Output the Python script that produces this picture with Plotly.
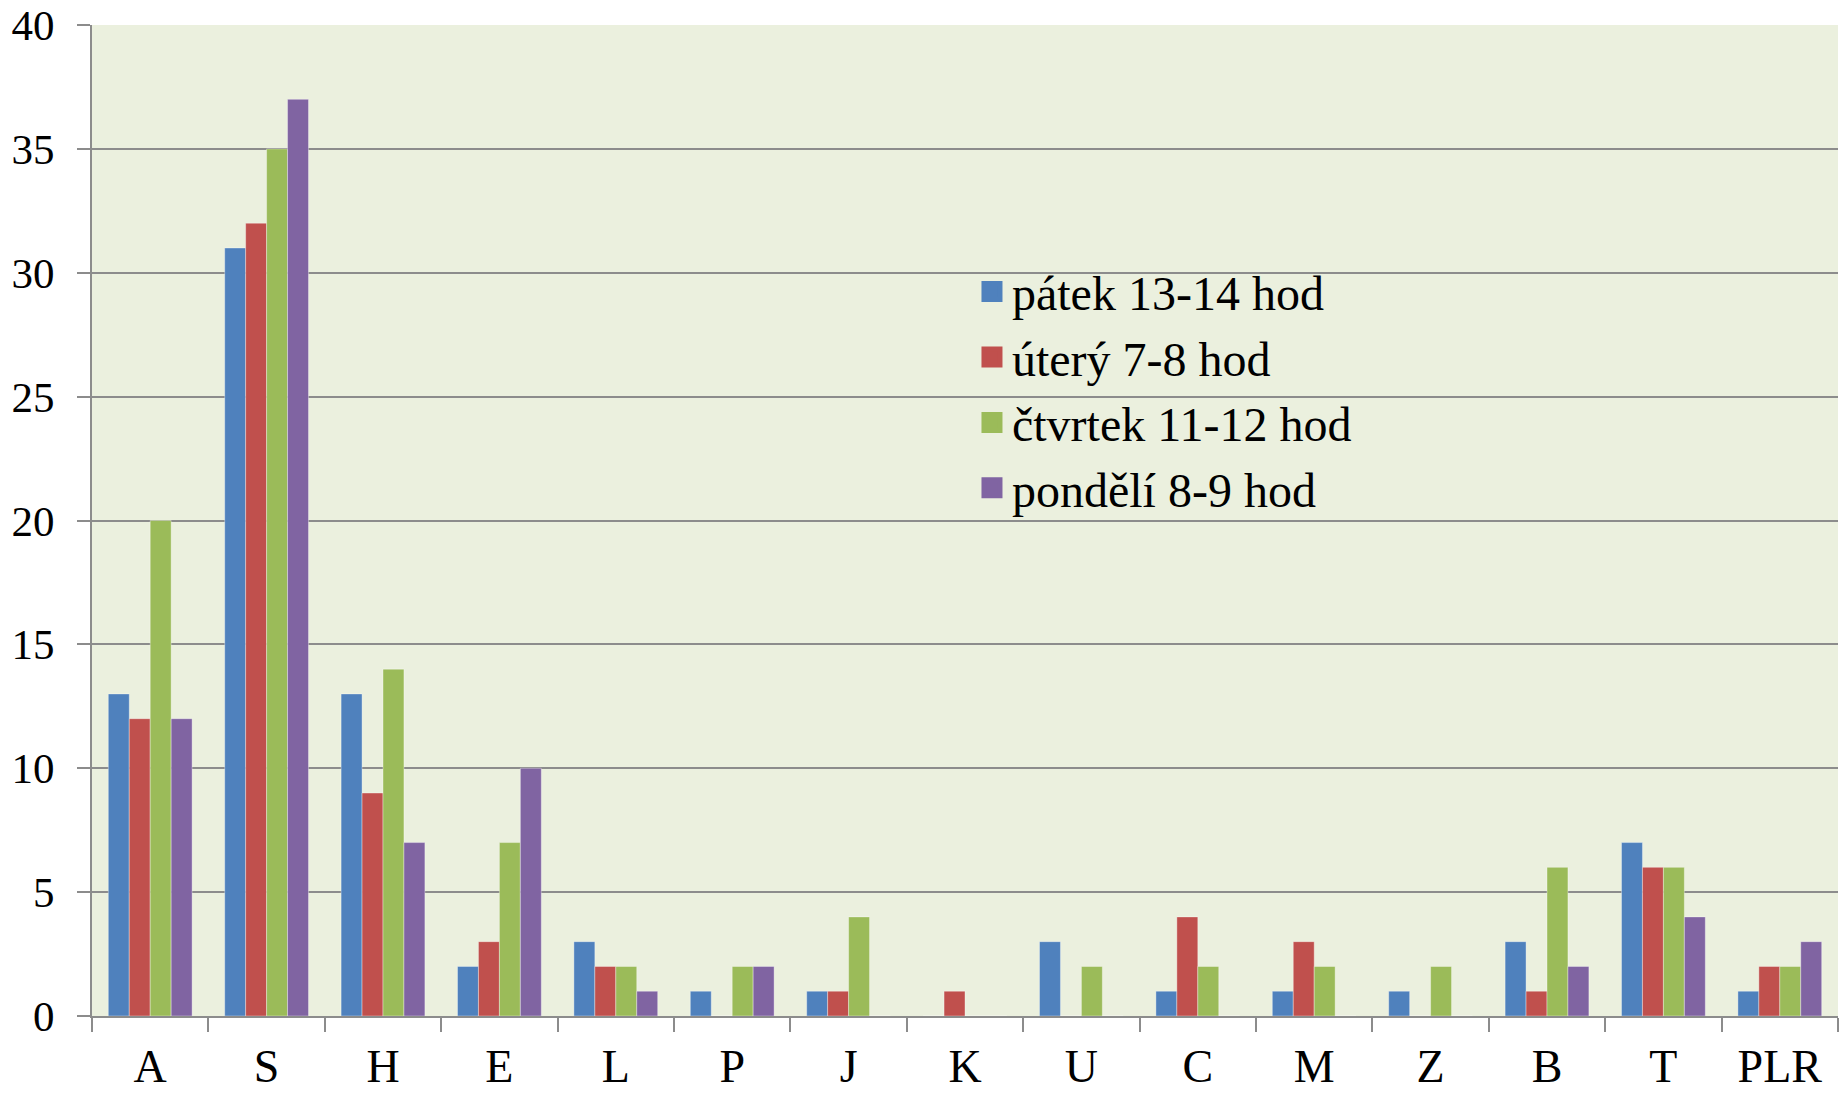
import plotly.graph_objects as go

categories = ["A", "S", "H", "E", "L", "P", "J", "K", "U", "C", "M", "Z", "B", "T", "PLR"]
series_names = ["pátek 13-14 hod", "úterý 7-8 hod", "čtvrtek 11-12 hod", "pondělí 8-9 hod"]
patek = [13, 31, 13, 2, 3, 1, 1, 0, 3, 1, 1, 1, 3, 7, 1]
utery = [12, 32, 9, 3, 2, 0, 1, 1, 0, 4, 3, 0, 1, 6, 2]
ctvrtek = [20, 35, 14, 7, 2, 2, 4, 0, 2, 2, 2, 2, 6, 6, 2]
pondeli = [12, 37, 7, 10, 1, 2, 0, 0, 0, 0, 0, 0, 2, 4, 3]
y_ticks = [0, 5, 10, 15, 20, 25, 30, 35, 40]

colors = ["#4F81BD", "#C0504D", "#9BBB59", "#8064A2"]
values = [patek, utery, ctvrtek, pondeli]

FONT = "Liberation Serif, Times New Roman, serif"

fig = go.Figure()
for name, vals, col in zip(series_names, values, colors):
    fig.add_trace(go.Bar(
        x=categories, y=vals, name=name, legendgroup=name, showlegend=False,
        marker=dict(color=col, line=dict(color="rgba(255,255,255,0.45)", width=0.8)),
    ))
    # legend proxy with larger square symbol
    fig.add_trace(go.Scatter(
        x=[None], y=[None], mode="markers", name=name, legendgroup=name,
        marker=dict(symbol="square", size=16, color=col, line=dict(color=col, width=5)),
    ))

fig.update_layout(
    width=1843, height=1093,
    margin=dict(l=92, r=5, t=25, b=77),
    paper_bgcolor="white",
    plot_bgcolor="#EBF0DE",
    barmode="group",
    bargap=0.28,
    bargroupgap=0,
    font=dict(family=FONT, color="black"),
    legend=dict(
        x=0.504, y=0.769, xanchor="left", yanchor="top",
        bgcolor="rgba(0,0,0,0)",
        font=dict(family=FONT, size=48, color="black"),
        tracegroupgap=0,
    ),
    xaxis=dict(
        type="category",
        automargin=False,
        showgrid=False,
        showline=True, linecolor="#8C8C8C", linewidth=2,
        ticks="outside", ticklen=14, tickwidth=2, tickcolor="#8C8C8C",
        tickson="boundaries",
        tickfont=dict(family=FONT, size=46, color="black"),
        ticklabelstandoff=9,
    ),
    yaxis=dict(
        range=[0, 40],
        automargin=False,
        tickvals=y_ticks,
        showgrid=True, gridcolor="#8C8C8C", gridwidth=2,
        showline=True, linecolor="#8C8C8C", linewidth=2,
        ticks="outside", ticklen=13, tickwidth=2, tickcolor="#8C8C8C",
        tickfont=dict(family=FONT, size=43, color="black"),
        ticklabelstandoff=14,
        zeroline=False,
    ),
)

fig.write_html(
    "out.html",
    config={"displayModeBar": False},
    post_script="document.body.style.margin='0';document.body.style.padding='0';document.body.style.overflow='hidden';",
)
